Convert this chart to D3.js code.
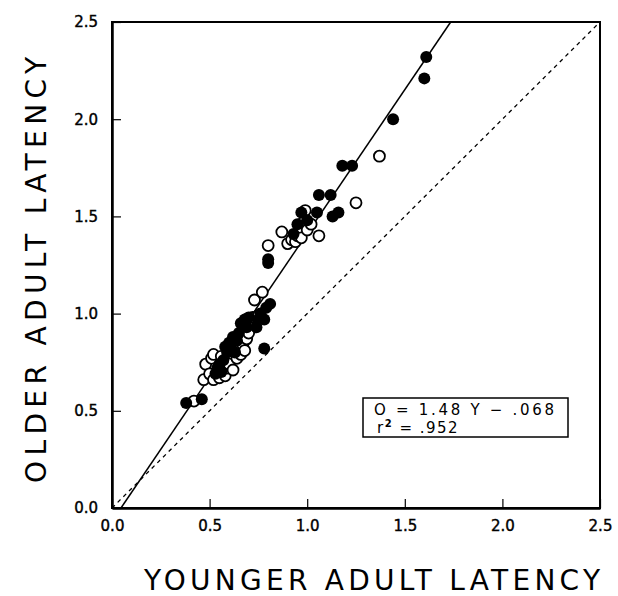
<!DOCTYPE html>
<html><head><meta charset="utf-8">
<script src="https://cdn.jsdelivr.net/npm/d3@7"></script>
<style>body{margin:0;background:#fff}</style>
</head><body>
<svg id="c" width="618" height="596"></svg>
<script>
const ticks = [0.0, 0.5, 1.0, 1.5, 2.0, 2.5];
const tickLabels = ["0.0", "0.5", "1.0", "1.5", "2.0", "2.5"];
const xTitle = "YOUNGER ADULT LATENCY";
const yTitle = "OLDER ADULT LATENCY";
const slope = 1.48, intercept = -0.068;
const eqLine1 = "O = 1.48 Y \u2212 .068";
const eqR = "r", eqSup = "2", eqRest = " = .952";
const filledX = [0.38,0.46,0.53,0.54,0.55,0.56,0.57,0.58,0.59,0.60,0.61,0.62,0.63,0.64,0.65,0.66,0.68,0.69,0.70,0.74,0.75,0.76,0.78,0.79,0.81,0.78,0.80,0.80,0.93,0.95,0.97,1.00,1.05,1.06,1.12,1.13,1.16,1.18,1.23,1.44,1.61,1.60];
const filledY = [0.54,0.56,0.69,0.72,0.74,0.70,0.76,0.83,0.80,0.85,0.82,0.88,0.80,0.86,0.90,0.95,0.97,0.93,0.98,0.93,0.97,1.00,0.97,1.03,1.05,0.82,1.28,1.26,1.41,1.46,1.52,1.48,1.52,1.61,1.61,1.50,1.52,1.76,1.76,2.00,2.32,2.21];
const openX = [0.42,0.47,0.48,0.50,0.51,0.52,0.52,0.55,0.56,0.58,0.59,0.60,0.62,0.63,0.64,0.66,0.67,0.68,0.69,0.70,0.72,0.73,0.75,0.77,0.80,0.87,0.90,0.92,0.94,0.95,0.96,0.97,0.98,0.99,1.00,1.02,1.06,1.25,1.37];
const openY = [0.55,0.66,0.74,0.69,0.77,0.79,0.66,0.67,0.78,0.68,0.72,0.74,0.71,0.83,0.77,0.79,0.84,0.81,0.87,0.90,0.98,1.07,0.99,1.11,1.35,1.42,1.36,1.38,1.37,1.40,1.44,1.39,1.47,1.53,1.43,1.46,1.40,1.57,1.81];

const svg = d3.select("#c");
const L = 112, R = 600, T = 22, B = 508;
const x = d3.scaleLinear().domain([0, 2.5]).range([L, R]);
const y = d3.scaleLinear().domain([0, 2.5]).range([B, T]);
const font = "'DejaVu Sans', sans-serif";

// frame
svg.append("rect").attr("x", L).attr("y", T).attr("width", R - L).attr("height", B - T)
  .attr("fill", "none").attr("stroke", "#000").attr("stroke-width", 2);

const xAxis = d3.axisBottom(x).tickValues(ticks).tickSizeInner(-9).tickSizeOuter(0)
  .tickPadding(12).tickFormat((d, i) => tickLabels[i]);
const gx = svg.append("g").attr("transform", `translate(0,${B})`).call(xAxis);
const yAxis = d3.axisLeft(y).tickValues(ticks).tickSizeInner(-9).tickSizeOuter(0)
  .tickPadding(14).tickFormat((d, i) => tickLabels[i]);
const gy = svg.append("g").attr("transform", `translate(${L},0)`).call(yAxis);
[gx, gy].forEach(g => {
  g.select(".domain").attr("stroke-width", 2.5);
  g.selectAll(".tick line").attr("stroke-width", 1.2);
  g.selectAll(".tick text").attr("font-family", font).attr("font-size", 15).attr("fill", "#000")
    .attr("stroke", "#000").attr("stroke-width", 0.4);
});

// diagonal
svg.append("line").attr("x1", x(0)).attr("y1", y(0)).attr("x2", x(2.5)).attr("y2", y(2.5))
  .attr("stroke", "#000").attr("stroke-width", 1.3).attr("stroke-dasharray", "4,4");
// regression
const x0 = (0 - intercept) / slope, x1 = (2.5 - intercept) / slope;
svg.append("line").attr("x1", x(x0)).attr("y1", y(0)).attr("x2", x(x1)).attr("y2", y(2.5))
  .attr("stroke", "#000").attr("stroke-width", 1.5);

// points
svg.append("g").selectAll("circle").data(openX.map((v, i) => [v, openY[i]])).join("circle")
  .attr("cx", d => x(d[0])).attr("cy", d => y(d[1])).attr("r", 5.5)
  .attr("fill", "#fff").attr("stroke", "#000").attr("stroke-width", 1.8);
svg.append("g").selectAll("circle").data(filledX.map((v, i) => [v, filledY[i]])).join("circle")
  .attr("cx", d => x(d[0])).attr("cy", d => y(d[1])).attr("r", 6)
  .attr("fill", "#000");

// equation box
svg.append("rect").attr("x", 363).attr("y", 398).attr("width", 205).attr("height", 39)
  .attr("fill", "#fff").attr("stroke", "#000").attr("stroke-width", 1.5);
svg.append("text").attr("x", 374).attr("y", 415).attr("font-family", font).attr("font-size", 15)
  .attr("textLength", 180).attr("lengthAdjust", "spacing").text(eqLine1);
const t2 = svg.append("text").attr("x", 377).attr("y", 433).attr("font-family", font).attr("font-size", 15)
  .attr("letter-spacing", 1.5);
t2.append("tspan").text(eqR);
t2.append("tspan").attr("font-size", 10).attr("dy", -6).attr("font-weight", "bold").text(eqSup);
t2.append("tspan").attr("dy", 6).text(eqRest);

// titles
svg.append("text").attr("x", 372).attr("y", 590).attr("text-anchor", "middle")
  .attr("font-family", font).attr("font-size", 28)
  .attr("textLength", 456).attr("lengthAdjust", "spacing").text(xTitle);
svg.append("text").attr("transform", "translate(46,270) rotate(-90)").attr("text-anchor", "middle")
  .attr("font-family", font).attr("font-size", 28)
  .attr("textLength", 426).attr("lengthAdjust", "spacing").text(yTitle);
</script>
</body></html>
